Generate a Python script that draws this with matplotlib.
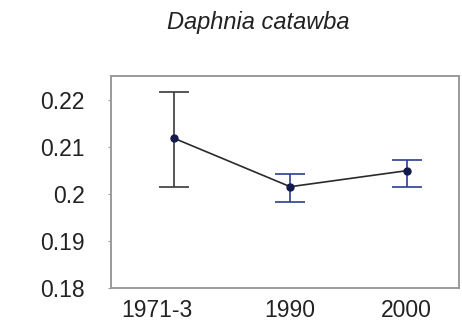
import matplotlib
matplotlib.use("Agg")
import matplotlib.pyplot as plt
from matplotlib.transforms import ScaledTranslation
import numpy as np

plt.rcParams['font.family'] = ['Liberation Sans', 'DejaVu Sans']

# Sampling periods and body-size estimates with confidence limits
periods = ["1971-3", "1990", "2000"]
mean_vals = [0.2118, 0.2015, 0.2049]
lower_vals = [0.2014, 0.1983, 0.2015]
upper_vals = [0.2216, 0.2043, 0.2072]
bar_colors = ["#3a3a3a", "#2b3f8f", "#2b3f8f"]

y_ticks = [0.18, 0.19, 0.2, 0.21, 0.22]
y_tick_labels = ["0.18", "0.19", "0.2", "0.21", "0.22"]

fig = plt.figure(figsize=(4.62, 3.26), dpi=100)
ax = fig.add_axes([111 / 462, 1 - 288 / 326, 348 / 462, 212 / 326])

x = np.arange(len(periods))
ax.plot(x, mean_vals, color="#2a2a2a", lw=1.2, zorder=2)
for xi, m, lo, hi, c in zip(x, mean_vals, lower_vals, upper_vals, bar_colors):
    ax.errorbar([xi], [m], yerr=[[m - lo], [hi - m]], fmt="none",
                ecolor=c, elinewidth=1.2, capsize=10.5, capthick=1.2, zorder=3)
ax.plot(x, mean_vals, "o", color="#141a4a", ms=5, zorder=4)

ax.set_xlim(-0.54, 2.45)
ax.set_ylim(0.18, 0.225)
ax.set_xticks(x)
ax.set_xticklabels(periods)
ax.set_yticks(y_ticks)
ax.set_yticklabels(y_tick_labels)
ax.tick_params(axis="both", labelsize=16.5, colors="#9a9a9a", labelcolor="#222222",
               length=2, width=0.8)
ax.tick_params(axis="y", pad=17)
ax.tick_params(axis="x", pad=8, length=0)

# first period label sits a little left of its point
lab0 = ax.get_xticklabels()[0]
lab0.set_transform(lab0.get_transform() + ScaledTranslation(-0.17, 0, fig.dpi_scale_trans))

for sp in ax.spines.values():
    sp.set_color("#9a9a9a")
    sp.set_linewidth(1.4)

fig.text(258 / 462, 1 - 22 / 326, "Daphnia catawba", style="italic",
         fontsize=17, color="#222222", ha="center", va="center")

fig.savefig("out.png", dpi=100, facecolor="white")
